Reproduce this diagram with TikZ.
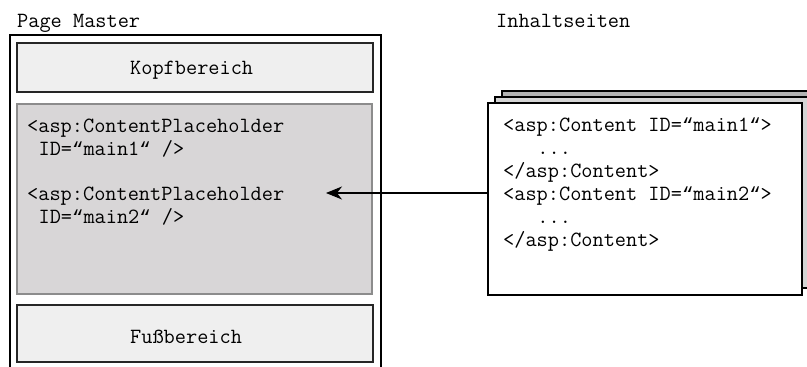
\documentclass[tikz,border=0pt]{standalone}
\usepackage{fontspec}
\usetikzlibrary{arrows.meta,fit}
% typewriter face sized so that one character is 11.4pt wide
\newcommand\typewriterface{\ttfamily\fontsize{21.7}{23}\selectfont}
% slanted typographic quote on the same 11.4pt grid
\newfontfamily\quotefont{Liberation Mono}
\newcommand\dq{{\quotefont\fontsize{19}{23}\selectfont “}}
\definecolor{bandgray}{HTML}{EFEFEF}
\definecolor{slotgray}{HTML}{D8D6D7}
\definecolor{slotline}{HTML}{8C8C8C}
\definecolor{sheetback}{HTML}{B2B2B2}
\definecolor{sheetmid}{HTML}{D4D4D4}
\tikzset{
  lbl/.style={font=\typewriterface, inner sep=0pt, anchor=base west},
  frame/.style={draw=black, line width=1.6pt, inner sep=0pt},
  band/.style={draw=black!85, fill=bandgray, line width=1.6pt, inner sep=0pt},
  slot/.style={draw=slotline, fill=slotgray, line width=1.6pt, inner sep=0pt},
  sheet/.style={draw=black, fill=white, line width=1.6pt, inner sep=0pt},
  link/.style={line width=1.1pt, -{Stealth[length=16pt,width=13pt,inset=5pt]}}
}
\begin{document}
\begin{tikzpicture}[x=1pt,y=-1pt]
\useasboundingbox (0,0) rectangle (807,367);
\clip (0,0) rectangle (807,367);

% master page: outer frame with header, content area and footer
\node[frame, fit={(9.8,34.8) (381.2,390)}] (master) {};
\node[band, fit={(16.8,42.8) (372.8,92.2)}] (head) {};
\node[slot, fit={(16.8,103.8) (372.2,294.2)}] (body) {};
\node[band, fit={(16.8,304.8) (372.8,362.2)}] (foot) {};

% stack of content pages
\node[sheet, fill=sheetback, fit={(502.2,90.8) (850,281)}] (pageC) {};
\node[sheet, fill=sheetmid, fit={(494.8,96.8) (840,288)}] (pageB) {};
\node[sheet, fit={(487.8,102.8) (802.2,295.2)}] (front) {};

% content pages fill the placeholders
\coordinate (tip) at (326,193);
\draw[link] (front.west |- tip) -- (tip);

% captions
\node[lbl] (capmaster) at (17,27) {Page Master};
\node[lbl] (cappages) at (496,27) {Inhaltseiten};
\node[lbl] (headtxt) at (130,74) {Kopfbereich};
\node[lbl] (foottxt) at (130,343) {Fußbereich};

% placeholder markup
\node[lbl] (ph1a) at (27,132) {<asp:ContentPlaceholder};
\node[lbl] (ph1b) at (38.4,155) {ID=\dq main1\dq\ />};
\node[lbl] (ph2a) at (27,200) {<asp:ContentPlaceholder};
\node[lbl] (ph2b) at (38.4,223) {ID=\dq main2\dq\ />};

% content markup
\node[lbl] (ct1a) at (503,131) {<asp:Content ID=\dq main1\dq>};
\node[lbl] (ct1b) at (537.2,154) {...};
\node[lbl] (ct1c) at (503,177) {</asp:Content>};
\node[lbl] (ct2a) at (503,200) {<asp:Content ID=\dq main2\dq>};
\node[lbl] (ct2b) at (537.2,223) {...};
\node[lbl] (ct2c) at (503,246) {</asp:Content>};
\end{tikzpicture}
\end{document}
